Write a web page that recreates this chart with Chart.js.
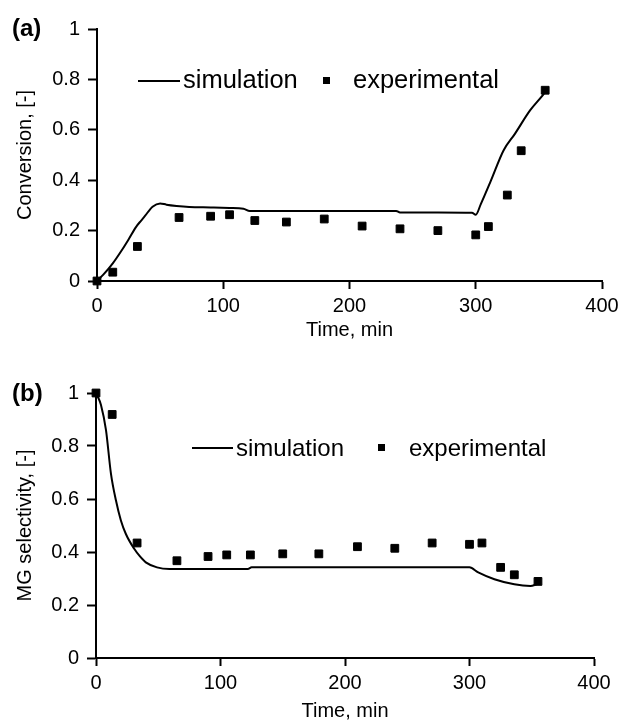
<!DOCTYPE html>
<html>
<head>
<meta charset="utf-8">
<script src="https://cdn.jsdelivr.net/npm/chart.js@4.4.1/dist/chart.umd.min.js"></script>
<style>
  body { margin: 0; background: #fff; }
  #wrap { position: relative; width: 620px; height: 720px; overflow: hidden;
          font-family: "Liberation Sans", Arial, sans-serif; color: #000; }
  canvas { position: absolute; left: 0; }
  .txt { position: absolute; line-height: 1; white-space: nowrap; }
  .panel-label { font-weight: bold; font-size: 24px; }
  .leg-line { position: absolute; height: 2px; background: #000; }
  .leg-box { position: absolute; background: #000; }
</style>
</head>
<body>
<div id="wrap">
  <canvas id="chartA" width="620" height="360" style="top:0"></canvas>
  <canvas id="chartB" width="620" height="360" style="top:360px"></canvas>

  <div class="txt panel-label" style="left:12px; top:16px">(a)</div>
  <div class="txt panel-label" style="left:12px; top:381px">(b)</div>

  <!-- legend (a) -->
  <div class="leg-line" style="left:138px; top:80px; width:42px"></div>
  <div class="txt" style="left:183px; top:67px; font-size:25.5px">simulation</div>
  <div class="leg-box" style="left:323px; top:77px; width:7px; height:7px"></div>
  <div class="txt" style="left:353px; top:67px; font-size:25.5px">experimental</div>

  <!-- legend (b) -->
  <div class="leg-line" style="left:192px; top:447px; width:41px"></div>
  <div class="txt" style="left:236px; top:436px; font-size:24px">simulation</div>
  <div class="leg-box" style="left:378px; top:444px; width:7px; height:7px"></div>
  <div class="txt" style="left:409px; top:436px; font-size:24px">experimental</div>
</div>

<script>
// (a) conversion vs time
const expTimeA = [0, 12.5, 32, 65, 90, 105, 125, 150, 180, 210, 240, 270, 300, 310, 325, 336, 355];
const expConvA = [0, 0.035, 0.137, 0.252, 0.257, 0.263, 0.240, 0.234, 0.246, 0.218, 0.207, 0.200, 0.183, 0.216, 0.341, 0.517, 0.757];

const simTimeA = [0, 5, 12.5, 20, 25, 31, 35, 38, 44, 50, 55, 63, 73, 90, 105, 116, 121, 150, 200, 237, 240, 270, 297, 300, 304, 312, 322, 331, 343, 353, 355];
const simConvA = [0, 0.025, 0.07, 0.125, 0.165, 0.215, 0.24, 0.258, 0.295, 0.308, 0.303, 0.298, 0.294, 0.292, 0.29, 0.287, 0.278, 0.278, 0.278, 0.278, 0.272, 0.272, 0.271, 0.263, 0.305, 0.398, 0.518, 0.584, 0.677, 0.737, 0.75];

// (b) MG selectivity vs time
const expTimeB = [0, 13, 33, 65, 90, 105, 124, 150, 179, 210, 240, 270, 300, 310, 325, 336, 355];
const expSelB = [1.0, 0.919, 0.434, 0.367, 0.383, 0.389, 0.389, 0.393, 0.393, 0.42, 0.414, 0.434, 0.429, 0.434, 0.342, 0.314, 0.289];

const simTimeB = [0, 2, 4, 8, 12, 16, 20, 24, 30.7, 35, 40, 49, 59, 100, 122, 125, 200, 300, 307, 320, 336, 349, 354];
const simSelB = [0.994, 0.98, 0.955, 0.861, 0.696, 0.595, 0.519, 0.468, 0.412, 0.385, 0.361, 0.342, 0.336, 0.336, 0.336, 0.342, 0.342, 0.342, 0.323, 0.297, 0.278, 0.272, 0.278];

// tick labels
const timeTicks = [0, 100, 200, 300, 400];
const fracTicks = [0, 0.2, 0.4, 0.6, 0.8, 1];

const FONT = '"Liberation Sans", Arial, sans-serif';

function toPoints(xs, ys) {
    return xs.map((x, i) => ({ x: x, y: ys[i] }));
}

// zero the label overhang so the plot area lands where we want it
function noOverhang(scale) {
    scale.paddingTop = 0;
    scale.paddingBottom = 0;
    scale.paddingLeft = 0;
    scale.paddingRight = 0;
}

function makeChart(id, simX, simY, expX, expY, yTitle, geo) {
    const ctx = document.getElementById(id).getContext('2d');
    return new Chart(ctx, {
        type: 'scatter',
        data: {
            datasets: [
                {
                    label: 'experimental',
                    data: toPoints(expX, expY),
                    pointStyle: 'rect',
                    pointRadius: 5.5,
                    pointBackgroundColor: '#000',
                    pointBorderColor: '#000',
                    pointBorderWidth: 1,
                    showLine: false,
                    clip: false
                },
                {
                    label: 'simulation',
                    data: toPoints(simX, simY),
                    showLine: true,
                    borderColor: '#000',
                    borderWidth: 2,
                    pointRadius: 0,
                    cubicInterpolationMode: 'monotone',
                    clip: false
                }
            ]
        },
        options: {
            responsive: false,
            animation: false,
            devicePixelRatio: 1,
            layout: { padding: { top: geo.top, right: geo.right, bottom: 0, left: 0 } },
            plugins: { legend: { display: false }, tooltip: { enabled: false } },
            scales: {
                x: {
                    type: 'linear',
                    min: timeTicks[0],
                    max: timeTicks[timeTicks.length - 1],
                    afterBuildTicks: function(s) { s.ticks = timeTicks.map(v => ({ value: v })); },
                    ticks: { color: '#000', padding: 5, maxRotation: 0,
                             font: { family: FONT, size: 20 },
                             callback: v => String(v) },
                    grid: { drawOnChartArea: false, drawTicks: true, tickLength: 8,
                            tickWidth: 2, tickColor: '#000' },
                    border: { display: true, color: '#000', width: 2 },
                    title: { display: true, text: 'Time, min', color: '#000',
                             font: { family: FONT, size: 20, lineHeight: geo.titleLH },
                             padding: { top: 0, bottom: geo.titlePad } },
                    afterFit: function(s) { noOverhang(s); s.height = geo.xHeight; }
                },
                y: {
                    min: fracTicks[0],
                    max: fracTicks[fracTicks.length - 1],
                    afterBuildTicks: function(s) { s.ticks = fracTicks.map(v => ({ value: v })); },
                    ticks: { color: '#000', padding: 8,
                             font: { family: FONT, size: 20 },
                             callback: v => String(v) },
                    grid: { drawOnChartArea: false, drawTicks: true, tickLength: 9,
                            tickWidth: 2, tickColor: '#000' },
                    border: { display: true, color: '#000', width: 2 },
                    title: { display: true, text: yTitle, color: '#000',
                             font: { family: FONT, size: 20 },
                             padding: { top: 13, bottom: 0 } },
                    afterFit: function(s) { noOverhang(s); s.width = geo.yWidth; }
                }
            }
        }
    });
}

makeChart('chartA', simTimeA, simConvA, expTimeA, expConvA, 'Conversion, [-]',
    { top: 29, right: 18, xHeight: 79, yWidth: 97, titleLH: 1.2, titlePad: 18 });

makeChart('chartB', simTimeB, simSelB, expTimeB, expSelB, 'MG selectivity, [-]',
    { top: 33, right: 26, xHeight: 62, yWidth: 96, titleLH: 0.9, titlePad: 0 });
</script>
</body>
</html>
